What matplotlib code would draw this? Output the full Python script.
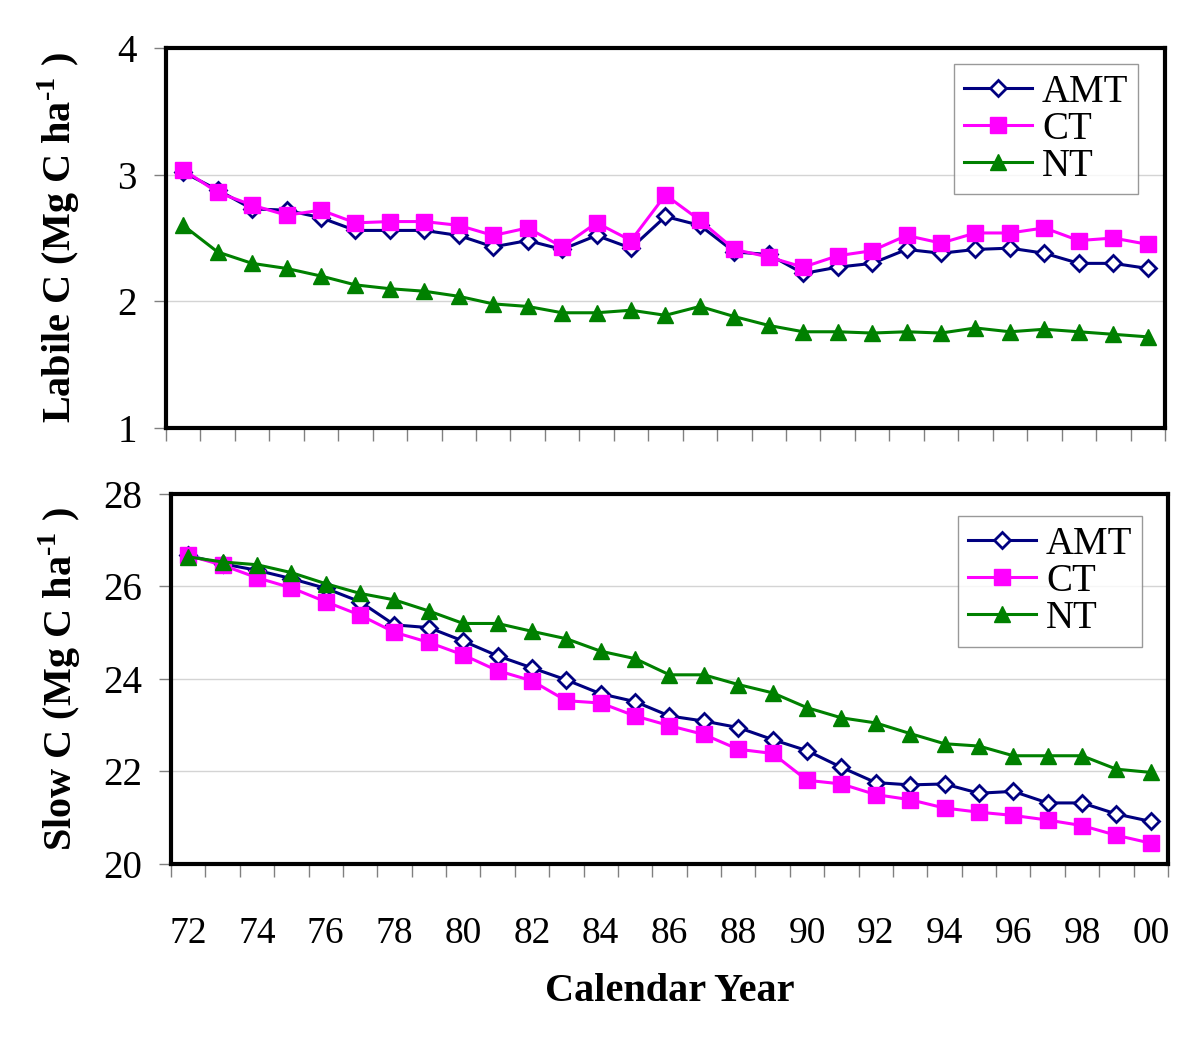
import matplotlib

matplotlib.use("Agg")
import matplotlib.pyplot as plt
from matplotlib.ticker import FixedLocator

plt.rcParams["font.family"] = ["Liberation Serif", "DejaVu Serif"]
plt.rcParams["mathtext.fontset"] = "custom"
plt.rcParams["mathtext.rm"] = "Liberation Serif:bold"
plt.rcParams["mathtext.bf"] = "Liberation Serif:bold"

YEARS = list(range(72, 101))
YEAR_LABELS = ["72", "74", "76", "78", "80", "82", "84", "86", "88", "90", "92", "94", "96", "98", "00"]

LABILE_AMT = [3.02, 2.88, 2.73, 2.72, 2.66, 2.56, 2.56, 2.56, 2.52, 2.43, 2.48, 2.41, 2.52, 2.42, 2.67,
              2.60, 2.39, 2.37, 2.22, 2.27, 2.30, 2.41, 2.38, 2.41, 2.42, 2.38, 2.30, 2.30, 2.26]
LABILE_CT = [3.04, 2.86, 2.76, 2.68, 2.72, 2.62, 2.63, 2.63, 2.60, 2.52, 2.58, 2.43, 2.62, 2.48, 2.84,
             2.64, 2.41, 2.35, 2.27, 2.36, 2.40, 2.52, 2.46, 2.54, 2.54, 2.58, 2.48, 2.50, 2.45]
LABILE_NT = [2.60, 2.39, 2.30, 2.26, 2.20, 2.13, 2.10, 2.08, 2.04, 1.98, 1.96, 1.91, 1.91, 1.93, 1.89,
             1.96, 1.88, 1.81, 1.76, 1.76, 1.75, 1.76, 1.75, 1.79, 1.76, 1.78, 1.76, 1.74, 1.72]

SLOW_AMT = [26.67, 26.49, 26.35, 26.17, 25.96, 25.67, 25.17, 25.11, 24.82, 24.50, 24.24, 23.98, 23.68, 23.51, 23.20,
            23.09, 22.95, 22.69, 22.45, 22.09, 21.76, 21.71, 21.73, 21.53, 21.57, 21.32, 21.32, 21.08, 20.92]
SLOW_CT = [26.67, 26.46, 26.19, 25.97, 25.67, 25.38, 25.01, 24.79, 24.52, 24.18, 23.96, 23.53, 23.48, 23.20, 22.99,
           22.80, 22.48, 22.39, 21.81, 21.73, 21.50, 21.39, 21.21, 21.12, 21.05, 20.95, 20.83, 20.62, 20.45]
SLOW_NT = [26.64, 26.53, 26.47, 26.30, 26.06, 25.85, 25.71, 25.47, 25.20, 25.20, 25.03, 24.87, 24.60, 24.44, 24.09,
           24.09, 23.88, 23.70, 23.38, 23.16, 23.05, 22.82, 22.60, 22.55, 22.34, 22.34, 22.34, 22.05, 21.98]

STYLES = {
    "AMT": dict(color="#000080", marker="D", ms=8.5, mfc="white", mec="#000080", mew=2),
    "CT": dict(color="#FF00FF", marker="s", ms=11, mfc="#FF00FF", mec="#FF00FF"),
    "NT": dict(color="#008000", marker="^", ms=12, mfc="#008000", mec="#008000"),
}


def style_axis(ax, yticks, ylabel, label_x, legend_anchor):
    for spine in ax.spines.values():
        spine.set_linewidth(3)
    ax.set_xlim(71.5, 100.5)
    ax.set_ylim(yticks[0], yticks[-1])
    ax.set_yticks(yticks)
    ax.yaxis.grid(True, color="#d4d4d4", linewidth=1)
    ax.set_axisbelow(True)
    ax.tick_params(axis="y", direction="out", length=9, width=1, color="#808080",
                   labelsize=28, pad=12)
    ax.xaxis.set_minor_locator(FixedLocator([y - 0.5 for y in YEARS] + [100.5]))
    ax.tick_params(axis="x", which="minor", direction="out", length=9, width=1, color="#808080")
    ax.set_ylabel(ylabel, fontsize=29, fontweight="bold")
    ax.yaxis.set_label_coords(label_x, 0.5)
    leg = ax.legend(loc="upper right", bbox_to_anchor=legend_anchor, borderaxespad=0, fontsize=28,
                    frameon=True, fancybox=False, edgecolor="#808080", handlelength=1.75,
                    labelspacing=0.0, handletextpad=0.25, borderpad=0.25)
    leg.get_frame().set_linewidth(1)


fig = plt.figure(figsize=(12, 10.53), dpi=100)
ax1 = fig.add_axes([0.1383, 0.5935, 0.8325, 0.3609])
ax2 = fig.add_axes([0.1425, 0.1795, 0.8308, 0.3514])

for name, values in zip(["AMT", "CT", "NT"], [LABILE_AMT, LABILE_CT, LABILE_NT]):
    ax1.plot(YEARS, values, lw=2.2, label=name, **STYLES[name])
for name, values in zip(["AMT", "CT", "NT"], [SLOW_AMT, SLOW_CT, SLOW_NT]):
    ax2.plot(YEARS, values, lw=2.2, label=name, **STYLES[name])

style_axis(ax1, [1, 2, 3, 4], "Labile C (Mg C ha$^{\\text{-1}}$ )", -0.084, (0.973, 0.958))
style_axis(ax2, [20, 22, 24, 26, 28], "Slow C (Mg C ha$^{\\text{-1}}$ )", -0.088, (0.974, 0.94))

ax1.set_xticks(YEARS[::2])
ax1.tick_params(axis="x", which="major", length=0, labelbottom=False)
ax2.set_xticks(YEARS[::2])
ax2.set_xticklabels(YEAR_LABELS)
ax2.tick_params(axis="x", which="major", length=0, labelsize=27, pad=38)
ax2.set_xlabel("Calendar Year", fontsize=29, fontweight="bold", labelpad=16)

fig.savefig("out.png", dpi=100)
